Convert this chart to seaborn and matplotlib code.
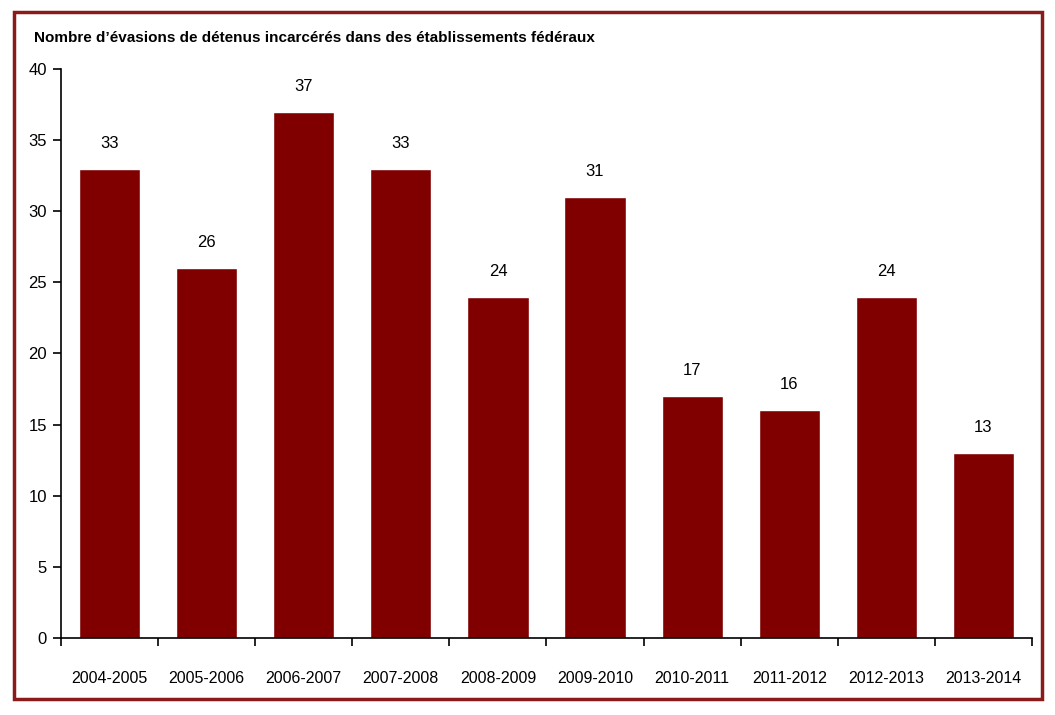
import matplotlib
matplotlib.use("Agg")
import matplotlib.pyplot as plt
import matplotlib.patches as patches
from matplotlib.ticker import MultipleLocator, FixedLocator
import seaborn as sns
import pandas as pd

# Data
periods = ['2004-2005', '2005-2006', '2006-2007', '2007-2008', '2008-2009',
           '2009-2010', '2010-2011', '2011-2012', '2012-2013', '2013-2014']
escapes = [33, 26, 37, 33, 24, 31, 17, 16, 24, 13]
title = "Nombre d\u2019évasions de détenus incarcérés dans des établissements fédéraux"

sns.set_style("white")
plt.rcParams['font.family'] = ['Liberation Sans Narrow', 'Liberation Sans', 'DejaVu Sans']
plt.rcParams['text.color'] = 'black'
plt.rcParams['xtick.color'] = 'black'
plt.rcParams['ytick.color'] = 'black'
plt.rcParams['axes.labelcolor'] = 'black'

df = pd.DataFrame({'period': periods, 'escapes': escapes})

fig = plt.figure(figsize=(10.55, 7.15), dpi=100)
ax = fig.add_axes([0.0578, 0.1077, 0.9204, 0.7958])

sns.barplot(data=df, x='period', y='escapes', color='#800000', saturation=1,
            width=0.63, ax=ax)
ax.bar_label(ax.containers[0], padding=13, fontsize=12, color='black')

ax.set_ylim(0, 40)
ax.set_xlim(-0.5, len(periods) - 0.5)
ax.yaxis.set_major_locator(MultipleLocator(5))
ax.set_xlabel('')
ax.set_ylabel('')

for side in ['top', 'right']:
    ax.spines[side].set_visible(False)
for side in ['left', 'bottom']:
    ax.spines[side].set_color('black')
    ax.spines[side].set_linewidth(1.2)

# category boundaries get the tick marks, labels sit between them
ax.xaxis.set_minor_locator(FixedLocator([i - 0.5 for i in range(len(periods) + 1)]))
ax.tick_params(axis='x', which='major', length=0, pad=24, labelsize=11.5)
ax.tick_params(axis='x', which='minor', length=6, width=1.2, direction='out', bottom=True)
ax.tick_params(axis='y', which='major', length=6, width=1.2, direction='out', left=True,
               labelsize=12, pad=4)

fig.text(0.032, 0.947, title, fontsize=11, fontweight='bold', va='center', ha='left')

border = patches.Rectangle((0.0128, 0.022), 0.975, 0.961, transform=fig.transFigure,
                           fill=False, edgecolor='#8b1a1a', linewidth=2.5)
fig.patches.append(border)

fig.savefig('out.png', dpi=100)
